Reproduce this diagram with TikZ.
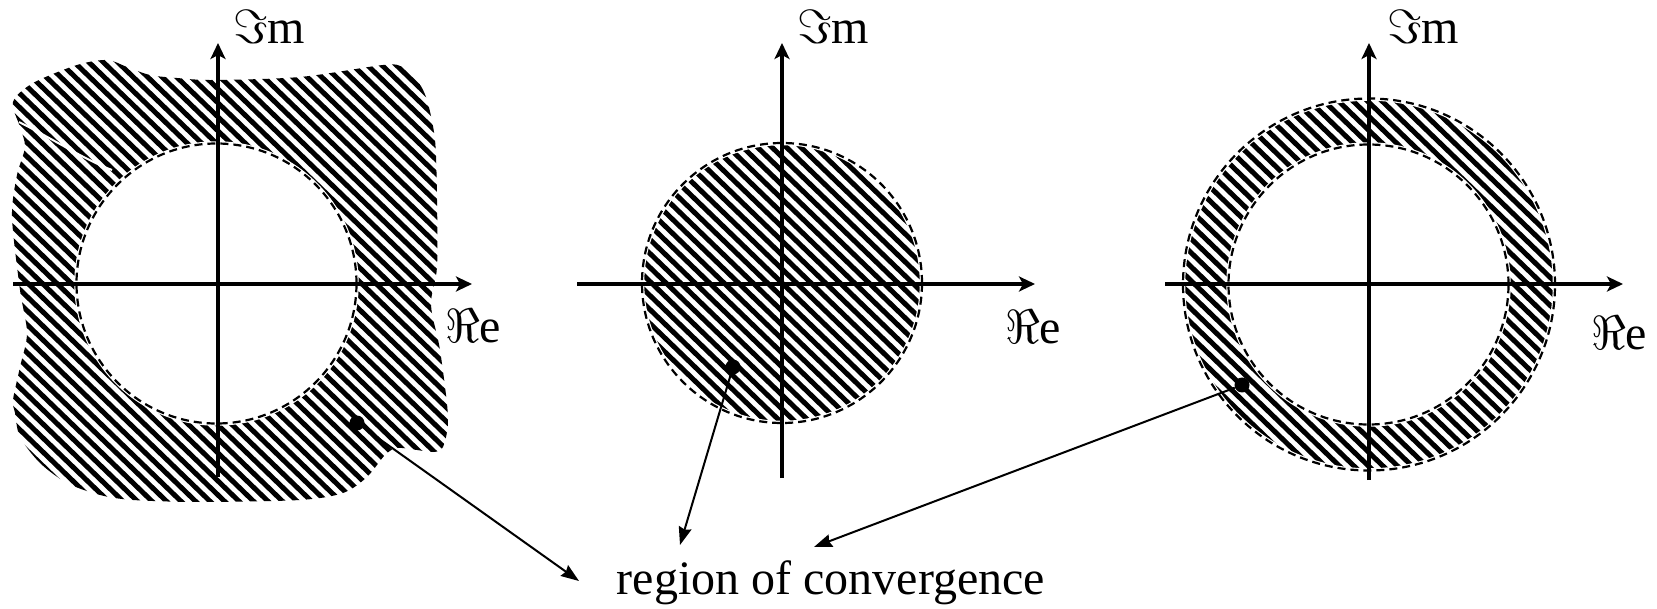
\RequirePackage{fix-cm}
\documentclass[tikz,border=0pt]{standalone}
\usepackage{fontspec}
\setmainfont{Liberation Serif}
\usetikzlibrary{arrows.meta}
\def\hstep{14.5}
\def\hang{44}
\newcommand{\myhatch}[2]{%
  \foreach \k in {-50,...,50}{%
    \draw[hatchline] ({#1+\k*\hstep-450*cos(\hang)},{#2-450*sin(\hang)}) -- ++({900*cos(\hang)},{900*sin(\hang)});
  }}
\begin{document}
\begin{tikzpicture}[x=1pt,y=-1pt,
  hatchline/.style={line width=5pt, black},
  halo/.style={draw=white, line width=4.5pt},
  dashcirc/.style={draw, line width=2.2pt, dash pattern=on 8pt off 5pt},
  axisline/.style={line width=3.5pt, -{Stealth[length=16pt,width=15pt,inset=4pt]}},
  conn/.style={line width=2pt, -{Stealth[length=18pt,width=13pt,inset=2pt]}},
  dotnode/.style={circle, fill=black, inner sep=0pt, minimum size=15pt},
  lab/.style={font=\fontsize{48}{58}\selectfont, inner sep=0pt, anchor=base west}]
\useasboundingbox (0,0) rectangle (1657,609);
\fill[white] (0,0) rectangle (1657,609);

% ---------- panel 1 ----------
\begin{scope}
\clip plot[smooth cycle] coordinates {(13,102) (33,83) (77,65) (107,60) (127,67) (150,75) (177,78) (213,80) (300,77) (383,65) (403,67) (417,80) (427,100) (435,140) (437,200) (437,267) (431,305) (440,350) (448,417) (443,447) (433,452) (417,450) (397,448) (385,455) (367,477) (343,493) (300,500) (200,502) (133,500) (100,495) (67,483) (40,463) (20,437) (15,413) (13,400) (20,367) (27,333) (20,290) (12,217) (17,175) (25,147) (20,127)};
\myhatch{217}{284}
\end{scope}
\draw[white, line width=2pt] (19,122) .. controls (55,140) and (85,160) .. (112,170);
\fill[white] (216.5,283.5) circle[radius=140pt];
\draw[halo] (216.5,283.5) circle[radius=140pt];
\draw[dashcirc] (216.5,283.5) circle[radius=140pt];
\draw[axisline] (13,284) -- (472,284);
\draw[axisline] (218,477) -- (218,43);
\node[lab] (im1) at (233,44) {$\Im$m};
\node[lab] (re1) at (445,343) {$\Re$e};
\node[dotnode] (d1) at (357,423) {};

% ---------- panel 2 ----------
\begin{scope}
\clip (782,283) circle[radius=140pt];
\myhatch{782}{283}
\end{scope}
\draw[halo] (782,283) circle[radius=140pt];
\draw[dashcirc] (782,283) circle[radius=140pt];
\draw[axisline] (577,284) -- (1035,284);
\draw[axisline] (782,478) -- (782,43);
\node[lab] (im2) at (797,44) {$\Im$m};
\node[lab] (re2) at (1005,344) {$\Re$e};
\node[dotnode] (d2) at (733,367) {};

% ---------- panel 3 ----------
\begin{scope}
\clip (1369,284.5) circle[radius=186pt];
\myhatch{1369}{284.5}
\end{scope}
\fill[white] (1368.5,284.5) circle[radius=140pt];
\draw[halo] (1369,284.5) circle[radius=186pt];
\draw[halo] (1368.5,284.5) circle[radius=140pt];
\draw[dashcirc] (1369,284.5) circle[radius=186pt];
\draw[dashcirc] (1368.5,284.5) circle[radius=140pt];
\draw[axisline] (1165,284) -- (1623,284);
\draw[axisline] (1369,480) -- (1369,43);
\node[lab] (im3) at (1387,44) {$\Im$m};
\node[lab] (re3) at (1591,350) {$\Re$e};
\node[dotnode] (d3) at (1242,385) {};

% ---------- label and connectors ----------
\node[font=\fontsize{48}{58}\selectfont, inner sep=0pt, anchor=base] (roc) at (831,594) {region of convergence};
\coordinate (t1) at (579,581);
\coordinate (t2) at (680,545);
\coordinate (t3) at (814,547);
\draw[conn] (d1) -- (t1);
\draw[conn] (d2) -- (t2);
\draw[conn] (d3) -- (t3);
\end{tikzpicture}
\end{document}
